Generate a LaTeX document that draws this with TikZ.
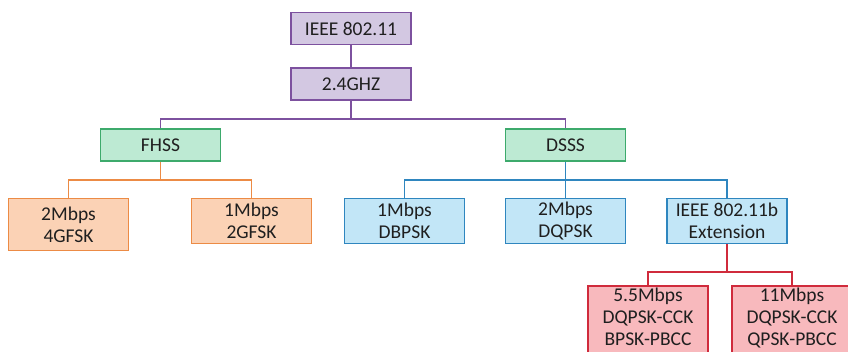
\documentclass[tikz,border=0pt]{standalone}
\usepackage{fontspec}
\setmainfont{Carlito}
\begin{document}
\begin{tikzpicture}[x=1pt,y=-1pt,
  box/.style={draw, line width=1.6pt, minimum width=120pt, inner sep=0pt,
    align=center, text=black!88, font=\fontsize{19.5}{22}\selectfont},
  purplebox/.style={box, draw=purpleline, fill=purplefill, minimum height=32pt},
  greenbox/.style={box, draw=greenline, fill=greenfill, minimum height=32pt},
  orangebox/.style={box, draw=orangeline, fill=orangefill, minimum height=45pt},
  bluebox/.style={box, draw=blueline, fill=bluefill, minimum height=45pt},
  redbox/.style={box, draw=redline, fill=redfill, inner ysep=2pt, text depth=24pt, anchor=north},
  link/.style={line width=1.6pt}
]
\definecolor{purpleline}{HTML}{7D519F}
\definecolor{purplefill}{HTML}{D3C8E2}
\definecolor{greenline}{HTML}{3DAA6C}
\definecolor{greenfill}{HTML}{BDEAD3}
\definecolor{orangeline}{HTML}{EC8B45}
\definecolor{orangefill}{HTML}{FBD2B5}
\definecolor{blueline}{HTML}{2F86BF}
\definecolor{bluefill}{HTML}{C2E6F7}
\definecolor{redline}{HTML}{D02B3C}
\definecolor{redfill}{HTML}{F8B9BD}
\useasboundingbox (0,0) rectangle (848,351);

% top of the tree
\node[purplebox] (std) at (351,28.5) {IEEE 802.11};
\node[purplebox] (band) at (351,84) {2.4GHZ};

% spread-spectrum branches
\node[greenbox] (fhss) at (160.5,145) {FHSS};
\node[greenbox] (dsss) at (565.5,145) {DSSS};

% FHSS rates
\node[orangebox, minimum height=52pt] (f2) at (68.5,224.5) {2Mbps\\4GFSK};
\node[orangebox] (f1) at (251.5,221) {1Mbps\\2GFSK};

% DSSS rates
\node[bluebox] (d1) at (404.5,221) {1Mbps\\DBPSK};
\node[bluebox] (d2) at (565.5,221) {2Mbps\\DQPSK};
\node[bluebox] (ext) at (727,221) {IEEE 802.11b\\Extension};

% 802.11b rates (boxes run past the lower edge)
\node[redbox] (r55) at (648,285) {5.5Mbps\\DQPSK-CCK\\BPSK-PBCC};
\node[redbox] (r11) at (792,285) {11Mbps\\DQPSK-CCK\\QPSK-PBCC};

% bus junctions
\coordinate (pbus) at (351,119);
\coordinate (obus) at (160.5,180);
\coordinate (bbus) at (565.5,180);
\coordinate (rbus) at (727,272);

% connectors
\draw[link, purpleline] (std) -- (band);
\draw[link, purpleline] (band) -- (pbus) -| (fhss);
\draw[link, purpleline] (pbus) -| (dsss);

\draw[link, orangeline] (fhss) -- (obus) -| (f2);
\draw[link, orangeline] (obus) -| (f1);

\draw[link, blueline] (dsss) -- (bbus) -| (d1);
\draw[link, blueline] (bbus) -| (ext);
\draw[link, blueline] (bbus) -- (d2);

\draw[link, redline] (ext) -- (rbus) -| (r55);
\draw[link, redline] (rbus) -| (r11);
\end{tikzpicture}
\end{document}
